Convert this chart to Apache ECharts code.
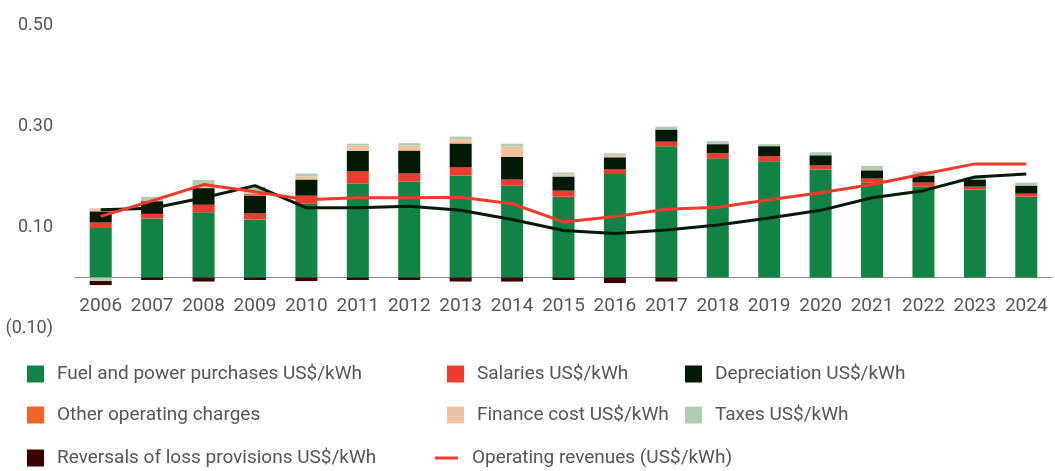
<!DOCTYPE html>
<html><head><meta charset="utf-8">
<script src="https://cdn.jsdelivr.net/npm/echarts@6/dist/echarts.min.js"></script>
<style>html,body{margin:0;padding:0;background:#fff}#c{width:1055px;height:471px}</style>
</head><body><div id="c"></div>
<script>
const years = ['2006','2007','2008','2009','2010','2011','2012','2013','2014','2015','2016','2017','2018','2019','2020','2021','2022','2023','2024'];
const fuel = [0.098,0.117,0.129,0.115,0.146,0.186,0.190,0.202,0.182,0.160,0.205,0.260,0.236,0.230,0.214,0.188,0.180,0.174,0.160];
const salaries = [0.011,0.009,0.015,0.012,0.016,0.024,0.016,0.016,0.012,0.012,0.009,0.009,0.010,0.010,0.008,0.008,0.008,0.006,0.006];
const depreciation = [0.022,0.025,0.033,0.035,0.032,0.041,0.045,0.047,0.045,0.028,0.024,0.024,0.018,0.020,0.020,0.016,0.014,0.014,0.016];
const otherCharges = [0,0.001,0,0.004,0,0,0.001,0.001,0,0,0,0,0,0,0,0.001,0,0,0];
const finance = [0.006,0,0.006,0.002,0.006,0.010,0.009,0.008,0.021,0.004,0.004,0,0,0,0,0,0,0,0];
const taxes = [-0.007,0.008,0.010,0.012,0.006,0.004,0.005,0.005,0.005,0.004,0.004,0.006,0.006,0.004,0.006,0.008,0.008,0.004,0.006];
const reversals = [-0.008,-0.005,-0.008,-0.005,-0.007,-0.005,-0.005,-0.008,-0.008,-0.005,-0.011,-0.008,0,0,0,0,0,0,0];
const revenues = [0.121,0.152,0.184,0.170,0.154,0.158,0.158,0.159,0.146,0.110,0.121,0.135,0.139,0.154,0.168,0.184,0.205,0.225,0.225];
const costs = [0.134,0.137,0.158,0.182,0.138,0.138,0.141,0.133,0.115,0.093,0.087,0.094,0.104,0.118,0.133,0.158,0.172,0.199,0.205];

const FONT = "Roboto,'Liberation Sans',sans-serif";
const TXT = '#555555';
const names = {
  fuel:'Fuel and power purchases US$/kWh', sal:'Salaries US$/kWh', dep:'Depreciation US$/kWh',
  oth:'Other operating charges', fin:'Finance cost US$/kWh', tax:'Taxes US$/kWh',
  rev:'Reversals of loss provisions US$/kWh', opr:'Operating revenues (US$/kWh)', opc:'Operating costs (US$/kWh)'
};
const colors = {fuel:'#118445', sal:'#EF3B2D', dep:'#021A05', oth:'#F26426', fin:'#F2C1A0', tax:'#AFCDB0', rev:'#3A0000', opr:'#EF3B2D', opc:'#051A08'};

function bar(key, data){
  return {name:names[key], type:'bar', stack:'total', barWidth:22, data:data,
    itemStyle:{color:colors[key]}, emphasis:{disabled:true}};
}
function leg(key, left, cy, isLine){
  const h = isLine ? 3 : 17;
  return {data:[names[key]], left:left, top:cy-11, padding:0, icon:'rect',
    itemWidth:isLine?23:17, itemHeight:h, selectedMode:false,
    textStyle:{fontFamily:FONT, fontSize:19, color:TXT, lineHeight:22, padding:[0,0,0,isLine?9:8]}};
}
const chart = echarts.init(document.getElementById('c'));
chart.setOption({
  animation:false,
  grid:{left:75, right:3, top:25, bottom:143},
  xAxis:{type:'category', data:years, axisTick:{show:false},
    axisLine:{lineStyle:{color:'#8c8c8c', width:1}},
    axisLabel:{fontFamily:FONT, fontSize:19, color:TXT, margin:-31, interval:0}},
  yAxis:{type:'value', min:-0.1, max:0.5, interval:0.2, splitLine:{show:false},
    axisLine:{show:false}, axisTick:{show:false},
    axisLabel:{fontFamily:FONT, fontSize:18, color:TXT, margin:22,
      formatter:v=> v<0 ? '('+Math.abs(v).toFixed(2)+')' : v.toFixed(2)}},
  legend:[
    leg('fuel',27,374), leg('sal',447,374), leg('dep',685,374),
    leg('oth',27,415), leg('fin',447,415), leg('tax',685,415),
    leg('rev',27,458), leg('opr',435,458,true)
  ],
  series:[
    bar('fuel',fuel), bar('sal',salaries), bar('dep',depreciation), bar('oth',otherCharges),
    bar('fin',finance), bar('tax',taxes), bar('rev',reversals),
    {name:names.opc, type:'line', data:costs, symbol:'none', lineStyle:{color:colors.opc, width:3}, itemStyle:{color:colors.opc}, z:5},
    {name:names.opr, type:'line', data:revenues, symbol:'none', lineStyle:{color:colors.opr, width:3}, itemStyle:{color:colors.opr}, z:6}
  ]
});
</script></body></html>
